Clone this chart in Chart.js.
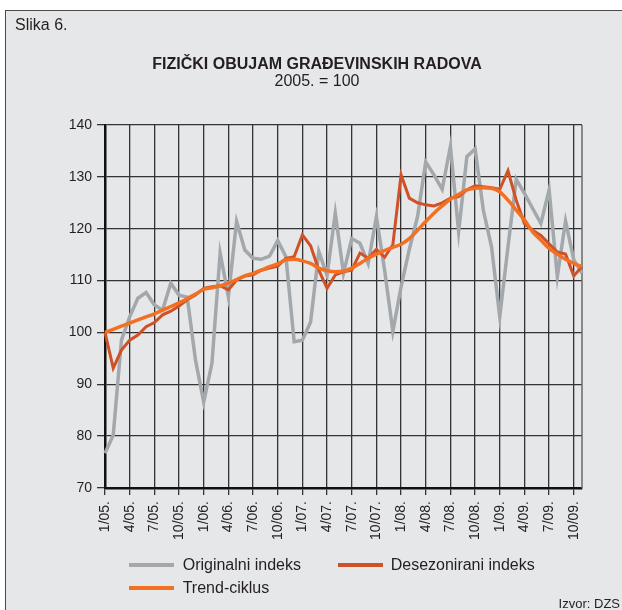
<!DOCTYPE html>
<html><head><meta charset="utf-8">
<script src="https://cdn.jsdelivr.net/npm/chart.js@4"></script>
<style>
html,body{margin:0;padding:0;background:#fff;width:622px;height:610px;overflow:hidden;font-family:"Liberation Sans",Arial,sans-serif;color:#231f20}
#box{position:absolute;left:5px;top:10px;width:630px;height:620px;background:#e6e7e8;border-top:1.5px solid #4a4a4a;border-left:1.5px solid #4a4a4a}
#c{position:absolute;left:0;top:0}
.t{position:absolute;white-space:nowrap;line-height:1}
.sw{position:absolute;width:45px;height:4px}
</style></head>
<body>
<div id="box"></div>
<canvas id="c" width="622" height="610"></canvas>
<div class="t" style="left:15px;top:16.5px;font-size:16px">Slika 6.</div>
<div class="t" style="left:0;width:634px;text-align:center;top:55.8px;font-size:16px;font-weight:bold">FIZIČKI OBUJAM GRAĐEVINSKIH RADOVA</div>
<div class="t" style="left:0;width:634px;text-align:center;top:72.5px;font-size:16px">2005. = 100</div>
<div class="sw" style="left:129px;top:562.7px;background:#a3a8ac"></div>
<div class="t" style="left:182.7px;top:557.2px;font-size:16px">Originalni indeks</div>
<div class="sw" style="left:338px;top:562.7px;background:#cf5127"></div>
<div class="t" style="left:390.7px;top:557.2px;font-size:16px">Desezonirani indeks</div>
<div class="sw" style="left:129px;top:585.7px;background:#f36f21"></div>
<div class="t" style="left:182.7px;top:579.8px;font-size:16px">Trend-ciklus</div>
<div class="t" style="right:2px;top:596.7px;font-size:13px">Izvor: DZS</div>
<script>
const months = [
 "1/05.","2/05.","3/05.","4/05.","5/05.","6/05.","7/05.","8/05.","9/05.","10/05.","11/05.","12/05.",
 "1/06.","2/06.","3/06.","4/06.","5/06.","6/06.","7/06.","8/06.","9/06.","10/06.","11/06.","12/06.",
 "1/07.","2/07.","3/07.","4/07.","5/07.","6/07.","7/07.","8/07.","9/07.","10/07.","11/07.","12/07.",
 "1/08.","2/08.","3/08.","4/08.","5/08.","6/08.","7/08.","8/08.","9/08.","10/08.","11/08.","12/08.",
 "1/09.","2/09.","3/09.","4/09.","5/09.","6/09.","7/09.","8/09.","9/09.","10/09.","11/09."
];
const tickLabels = ["1/05.","4/05.","7/05.","10/05.","1/06.","4/06.","7/06.","10/06.","1/07.","4/07.",
 "7/07.","10/07.","1/08.","4/08.","7/08.","10/08.","1/09.","4/09.","7/09.","10/09."];
const yTicks = [70, 80, 90, 100, 110, 120, 130, 140];

const originalni = [76.7,80.2,98.5,103.0,106.6,107.7,105.3,104.3,109.5,107.2,106.8,94.7,
 86.6,94.0,115.3,106.9,121.4,115.9,114.3,114.1,114.7,117.7,114.6,98.2,
 98.5,102.0,115.6,111.0,123.0,111.4,118.1,117.2,113.3,122.3,112.0,100.2,
 108.8,116.0,122.3,132.9,130.4,127.6,135.9,119.4,133.9,135.4,123.6,116.5,
 103.0,116.5,129.5,126.8,123.9,121.0,127.5,110.8,121.5,114.0,111.4];
const desezonirani = [100.0,93.1,96.6,98.5,99.5,101.1,101.9,103.4,104.1,105.1,106.3,107.2,
 108.5,108.8,109.0,108.2,110.1,110.9,111.1,112.0,112.4,112.8,114.3,114.6,
 118.8,116.7,112.0,108.5,111.1,111.7,112.0,115.3,114.3,116.0,114.5,116.9,
 130.4,125.9,125.0,124.6,124.4,125.0,125.9,126.2,127.5,128.3,128.1,127.9,
 127.6,131.2,125.5,121.0,119.7,118.7,117.1,115.5,115.1,110.9,112.7];
const trendCiklus = [100.0,100.6,101.2,101.8,102.4,103.0,103.6,104.3,105.0,105.7,106.5,107.4,
 108.3,108.6,109.0,109.5,110.2,110.9,111.4,112.0,112.7,113.2,114.0,114.1,
 113.8,113.3,112.4,111.9,111.7,111.8,112.4,113.3,114.3,115.1,115.8,116.4,
 117.0,118.1,119.7,121.4,123.0,124.4,125.7,126.6,127.5,127.8,127.9,127.8,
 127.1,125.5,123.6,121.7,119.4,117.8,116.2,115.1,114.1,113.3,112.7];

const FONT = '"Liberation Sans", Arial, sans-serif';
const frame = {
  id: 'frame',
  beforeDatasetsDraw(chart) {
    const a = chart.chartArea, c = chart.ctx;
    c.save();
    c.strokeStyle = '#6a6a6a';
    c.lineWidth = 1.5;
    c.beginPath();
    c.moveTo(a.right, a.top);
    c.lineTo(a.right, a.bottom);
    c.stroke();
    c.restore();
  }
};

new Chart(document.getElementById('c'), {
  type: 'line',
  data: {
    labels: months,
    datasets: [
      {label: 'Originalni indeks', data: originalni, borderColor: '#a3a8ac', borderWidth: 3.5, pointRadius: 0, tension: 0, order: 3},
      {label: 'Desezonirani indeks', data: desezonirani, borderColor: '#cf5127', borderWidth: 3, pointRadius: 0, tension: 0, order: 2},
      {label: 'Trend-ciklus', data: trendCiklus, borderColor: '#f36f21', borderWidth: 3.5, pointRadius: 0, cubicInterpolationMode: 'monotone', order: 1}
    ]
  },
  options: {
    responsive: false, animation: false, devicePixelRatio: 1,
    layout: {padding: {left: 0, right: 40, top: 125, bottom: 62}},
    plugins: {legend: {display: false}, tooltip: {enabled: false}, title: {display: false}},
    scales: {
      x: {
        type: 'category', offset: false,
        grid: {color: '#333', lineWidth: 1.3, tickLength: 7, drawTicks: true},
        border: {color: '#111', width: 2.5},
        ticks: {
          autoSkip: false, maxRotation: 90, minRotation: 90, padding: 6, color: '#231f20',
          font: {family: FONT, size: 14},
          callback: (v, i) => tickLabels.includes(months[i]) ? months[i] : null
        },
        afterFit: s => { s.height = 60; }
      },
      y: {
        min: 70, max: 140,
        afterBuildTicks: s => { s.ticks = yTicks.map(v => ({value: v})); },
        grid: {color: '#333', lineWidth: 1.3, tickLength: 8},
        border: {color: '#111', width: 2.5},
        ticks: {padding: 5, color: '#231f20', font: {family: FONT, size: 14}},
        afterFit: s => { s.width = 105; }
      }
    }
  },
  plugins: [frame]
});
</script>
</body></html>
